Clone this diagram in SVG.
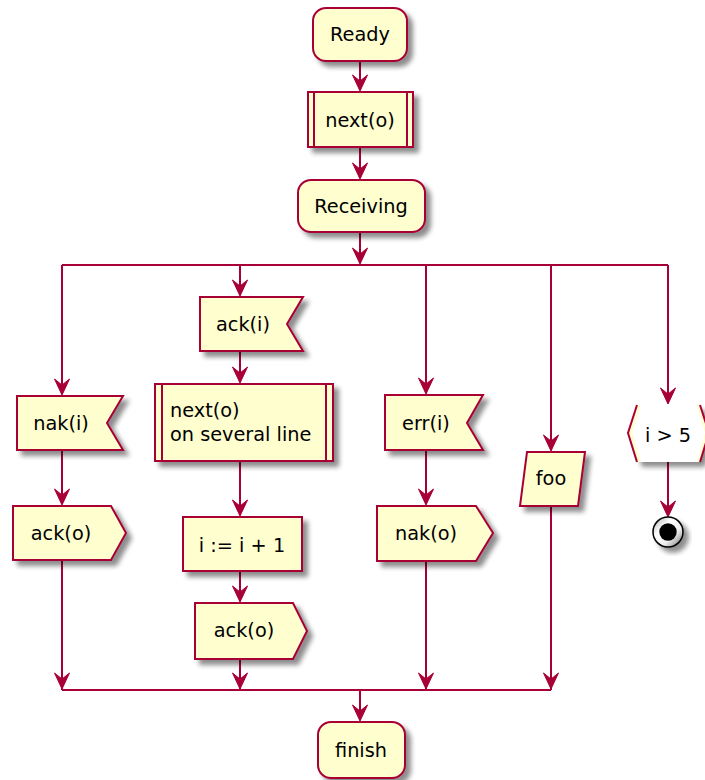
<svg xmlns="http://www.w3.org/2000/svg" width="705" height="780" viewBox="0 0 705 780">
<defs>
<filter id="sh" x="-20%" y="-20%" width="150%" height="150%">
<feGaussianBlur in="SourceAlpha" stdDeviation="2.5"/>
<feOffset dx="5" dy="5" result="b"/>
<feComponentTransfer><feFuncA type="linear" slope="0.45"/></feComponentTransfer>
<feMerge><feMergeNode/><feMergeNode in="SourceGraphic"/></feMerge>
</filter>
<linearGradient id="stopg" x1="0" y1="0" x2="1" y2="1">
<stop offset="0" stop-color="#aaaaaa"/><stop offset="0.35" stop-color="#ffffff"/><stop offset="0.65" stop-color="#eeeeee"/><stop offset="1" stop-color="#666666"/>
</linearGradient>
<path id="ah" d="M-7.5,-16 L0,0 L7.5,-16 L0,-10 Z" fill="#A80036" stroke="#A80036" stroke-width="1"/>
<style>
.n{fill:#FEFECE;stroke:#A80036;stroke-width:2;filter:url(#sh)}
.l{stroke:#A80036;stroke-width:2;fill:none}
.c{stroke:#A80036;stroke-width:2;fill:none}
.t{font-family:"DejaVu Sans",sans-serif;font-size:19.3px;fill:#000}
.m{text-anchor:middle}
</style>
</defs>
<rect width="705" height="780" fill="#fff"/>

<g id="connectors">
<line class="c" x1="360" y1="61" x2="360" y2="90"/>
<line class="c" x1="360" y1="147" x2="360" y2="178"/>
<line class="c" x1="360" y1="232" x2="360" y2="263"/>
<line class="c" x1="62" y1="265" x2="668" y2="265"/>
<line class="c" x1="62" y1="265" x2="62" y2="394"/>
<line class="c" x1="62" y1="450" x2="62" y2="504"/>
<line class="c" x1="62" y1="560" x2="62" y2="690"/>
<line class="c" x1="240" y1="265" x2="240" y2="295"/>
<line class="c" x1="240" y1="351" x2="240" y2="382"/>
<line class="c" x1="240" y1="461" x2="240" y2="515"/>
<line class="c" x1="240" y1="571" x2="240" y2="601"/>
<line class="c" x1="240" y1="659" x2="240" y2="690"/>
<line class="c" x1="426" y1="265" x2="426" y2="393"/>
<line class="c" x1="426" y1="450" x2="426" y2="504"/>
<line class="c" x1="426" y1="561" x2="426" y2="690"/>
<line class="c" x1="551" y1="265" x2="551" y2="450"/>
<line class="c" x1="551" y1="506" x2="551" y2="690"/>
<line class="c" x1="668" y1="265" x2="668" y2="403"/>
<line class="c" x1="668" y1="462" x2="668" y2="515"/>
<line class="c" x1="62" y1="690" x2="551" y2="690"/>
<line class="c" x1="360" y1="690" x2="360" y2="720"/>
<use href="#ah" x="360" y="91"/>
<use href="#ah" x="360" y="179"/>
<use href="#ah" x="360" y="264"/>
<use href="#ah" x="62" y="395"/>
<use href="#ah" x="62" y="505"/>
<use href="#ah" x="62" y="689"/>
<use href="#ah" x="240" y="296"/>
<use href="#ah" x="240" y="383"/>
<use href="#ah" x="240" y="516"/>
<use href="#ah" x="240" y="602"/>
<use href="#ah" x="240" y="689"/>
<use href="#ah" x="426" y="394"/>
<use href="#ah" x="426" y="505"/>
<use href="#ah" x="426" y="689"/>
<use href="#ah" x="551" y="451"/>
<use href="#ah" x="551" y="689"/>
<use href="#ah" x="668" y="404"/>
<use href="#ah" x="668" y="517"/>
<use href="#ah" x="360" y="721"/>
</g>

<g id="ready">
<rect class="n" x="313" y="8" width="94" height="53" rx="13"/>
<text class="t m" x="360" y="41">Ready</text>
</g>
<g id="next1">
<rect class="n" x="308" y="92" width="105" height="55"/>
<line class="l" x1="314" y1="92" x2="314" y2="147"/>
<line class="l" x1="407" y1="92" x2="407" y2="147"/>
<text class="t m" x="360" y="127">next(o)</text>
</g>
<g id="receiving">
<rect class="n" x="298" y="180" width="127" height="52" rx="13"/>
<text class="t m" x="361" y="213">Receiving</text>
</g>

<g id="naki">
<polygon class="n" points="17,396 123,396 107,423 123,450 17,450"/>
<text class="t m" x="61" y="430">nak(i)</text>
</g>
<g id="acko1">
<polygon class="n" points="13,506 111,506 126,533 111,560 13,560"/>
<text class="t m" x="61" y="540">ack(o)</text>
</g>

<g id="acki">
<polygon class="n" points="200,297 303,297 287,324 303,351 200,351"/>
<text class="t m" x="243" y="331">ack(i)</text>
</g>
<g id="next2">
<rect class="n" x="155" y="384" width="178" height="77"/>
<line class="l" x1="162" y1="384" x2="162" y2="461"/>
<line class="l" x1="326" y1="384" x2="326" y2="461"/>
<text class="t" x="170" y="417">next(o)</text>
<text class="t" x="170" y="441">on several line</text>
</g>
<g id="inc">
<rect class="n" x="183" y="517" width="119" height="54"/>
<text class="t m" x="242" y="552">i := i + 1</text>
</g>
<g id="acko2">
<polygon class="n" points="195,603 293,603 307,631 293,659 195,659"/>
<text class="t m" x="244" y="637">ack(o)</text>
</g>

<g id="erri">
<polygon class="n" points="385,395 483,395 467,423 483,450 385,450"/>
<text class="t m" x="426" y="430">err(i)</text>
</g>
<g id="nako">
<polygon class="n" points="377,506 476,506 493,533 476,561 377,561"/>
<text class="t m" x="426" y="540">nak(o)</text>
</g>

<g id="foo">
<polygon class="n" points="527,452 585,452 578,506 520,506"/>
<text class="t m" x="551" y="485">foo</text>
</g>

<g id="cond">
<polygon points="637,405 700,405 709,433 700,462 637,462 628,433" fill="#fff" filter="url(#sh)"/>
<polygon points="637,405 641,405 632,433 641,462 637,462 628,433" fill="#FEFECE"/>
<polygon points="700,405 697,405 705,433 697,462 700,462 709,433" fill="#FEFECE"/>
<polyline class="l" points="637,405 628,433 637,462"/>
<polyline class="l" points="700,405 709,433 700,462"/>
<text class="t m" x="668" y="442">i &gt; 5</text>
</g>

<g id="stop">
<circle cx="668" cy="532" r="15" fill="url(#stopg)" stroke="#000" stroke-width="1.5" filter="url(#sh)"/>
<circle cx="668" cy="532" r="8.7" fill="#000"/>
</g>

<g id="finish">
<rect class="n" x="318" y="722" width="87" height="56" rx="13"/>
<text class="t m" x="361" y="757">finish</text>
</g>
</svg>
